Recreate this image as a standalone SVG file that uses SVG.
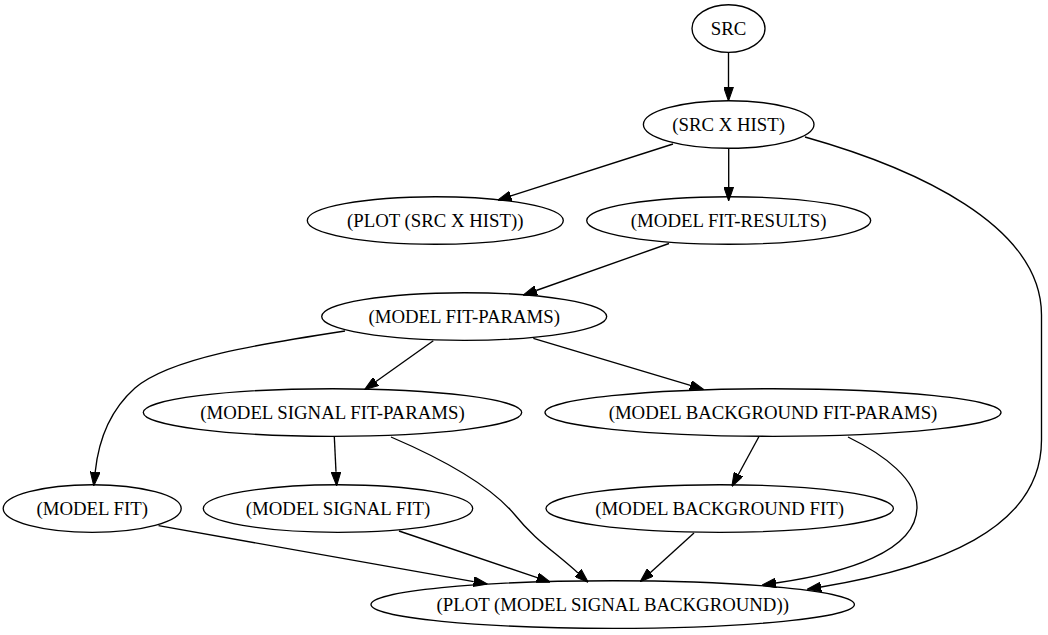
<svg xmlns="http://www.w3.org/2000/svg" width="1048" height="635" viewBox="0 0 1048 635">
<style>
.node ellipse{fill:none;stroke:#000;stroke-width:1.35}
.node text{font-family:"Liberation Serif","Times New Roman",serif;font-size:18.8px;text-anchor:middle;fill:#000}
.edge path{fill:none;stroke:#000;stroke-width:1.35}
</style>
<defs>
<marker id="arr" markerUnits="userSpaceOnUse" markerWidth="14" markerHeight="10" viewBox="0 0 13.5 9.4" refX="0" refY="4.7" orient="auto">
<path d="M0,0 L13.5,4.7 L0,9.4 z" fill="#000" stroke="#000" stroke-width="1"/>
</marker>
</defs>
<rect width="1048" height="635" fill="#fff"/>
<g id="edges" class="edge">
<path marker-end="url(#arr)" d="M728.5,52.5 L728.5,87"/>
<path marker-end="url(#arr)" d="M673,144 L510.9,195.9"/>
<path marker-end="url(#arr)" d="M728.7,148.5 L728.7,187"/>
<path marker-end="url(#arr)" d="M805,137 C915,168 1041.5,225 1041.5,315 L1041.5,440 C1041.5,530 935,568 821,587"/>
<path marker-end="url(#arr)" d="M669,243.5 L536.2,290.5"/>
<path marker-end="url(#arr)" d="M345,331 C260,344 170,358 135,388 C108,412 98,445 95.2,472"/>
<path marker-end="url(#arr)" d="M433.3,340.7 L376,381.5"/>
<path marker-end="url(#arr)" d="M533.3,338.3 L690.4,385.4"/>
<path marker-end="url(#arr)" d="M334.3,436.5 L336,471.8"/>
<path marker-end="url(#arr)" d="M391,437 C440,458 490,485 515,515 C535,540 555,552 578,573"/>
<path marker-end="url(#arr)" d="M759,436.5 L738.5,474.2"/>
<path marker-end="url(#arr)" d="M848,437 C885,455 917,480 917,507 C917,552 845,573 776,583"/>
<path marker-end="url(#arr)" d="M694,533 L650.5,572.4"/>
<path marker-end="url(#arr)" d="M158.5,525.7 L473.7,581.6"/>
<path marker-end="url(#arr)" d="M399,531 L537.2,577.7"/>
</g>
<g id="n_src" class="node"><ellipse cx="728.5" cy="28.5" rx="36.5" ry="23.8"/><text x="728.5" y="35.3">SRC</text></g>
<g id="n_srcxhist" class="node"><ellipse cx="728.7" cy="124.5" rx="85.3" ry="23.8"/><text x="728.7" y="131.3">(SRC X HIST)</text></g>
<g id="n_plotsrc" class="node"><ellipse cx="435.3" cy="220.5" rx="128" ry="23.8"/><text x="435.3" y="227.3">(PLOT (SRC X HIST))</text></g>
<g id="n_fitresults" class="node"><ellipse cx="728.7" cy="220.5" rx="142" ry="23.8"/><text x="728.7" y="227.3">(MODEL FIT-RESULTS)</text></g>
<g id="n_fitparams" class="node"><ellipse cx="464.2" cy="316.5" rx="142.5" ry="23.8"/><text x="464.2" y="323.3">(MODEL FIT-PARAMS)</text></g>
<g id="n_sigfitparams" class="node"><ellipse cx="332.5" cy="412.5" rx="189.2" ry="23.8"/><text x="332.5" y="419.3">(MODEL SIGNAL FIT-PARAMS)</text></g>
<g id="n_bgfitparams" class="node"><ellipse cx="773" cy="412.5" rx="228" ry="23.8"/><text x="773" y="419.3">(MODEL BACKGROUND FIT-PARAMS)</text></g>
<g id="n_modelfit" class="node"><ellipse cx="92.2" cy="508.5" rx="89" ry="23.8"/><text x="92.2" y="515.3">(MODEL FIT)</text></g>
<g id="n_sigfit" class="node"><ellipse cx="338" cy="508.5" rx="134.7" ry="23.8"/><text x="338" y="515.3">(MODEL SIGNAL FIT)</text></g>
<g id="n_bgfit" class="node"><ellipse cx="719.7" cy="508.5" rx="173.7" ry="23.8"/><text x="719.7" y="515.3">(MODEL BACKGROUND FIT)</text></g>
<g id="n_plotmsb" class="node"><ellipse cx="612.7" cy="604.5" rx="241.7" ry="23.8"/><text x="612.7" y="611.3">(PLOT (MODEL SIGNAL BACKGROUND))</text></g>
</svg>
